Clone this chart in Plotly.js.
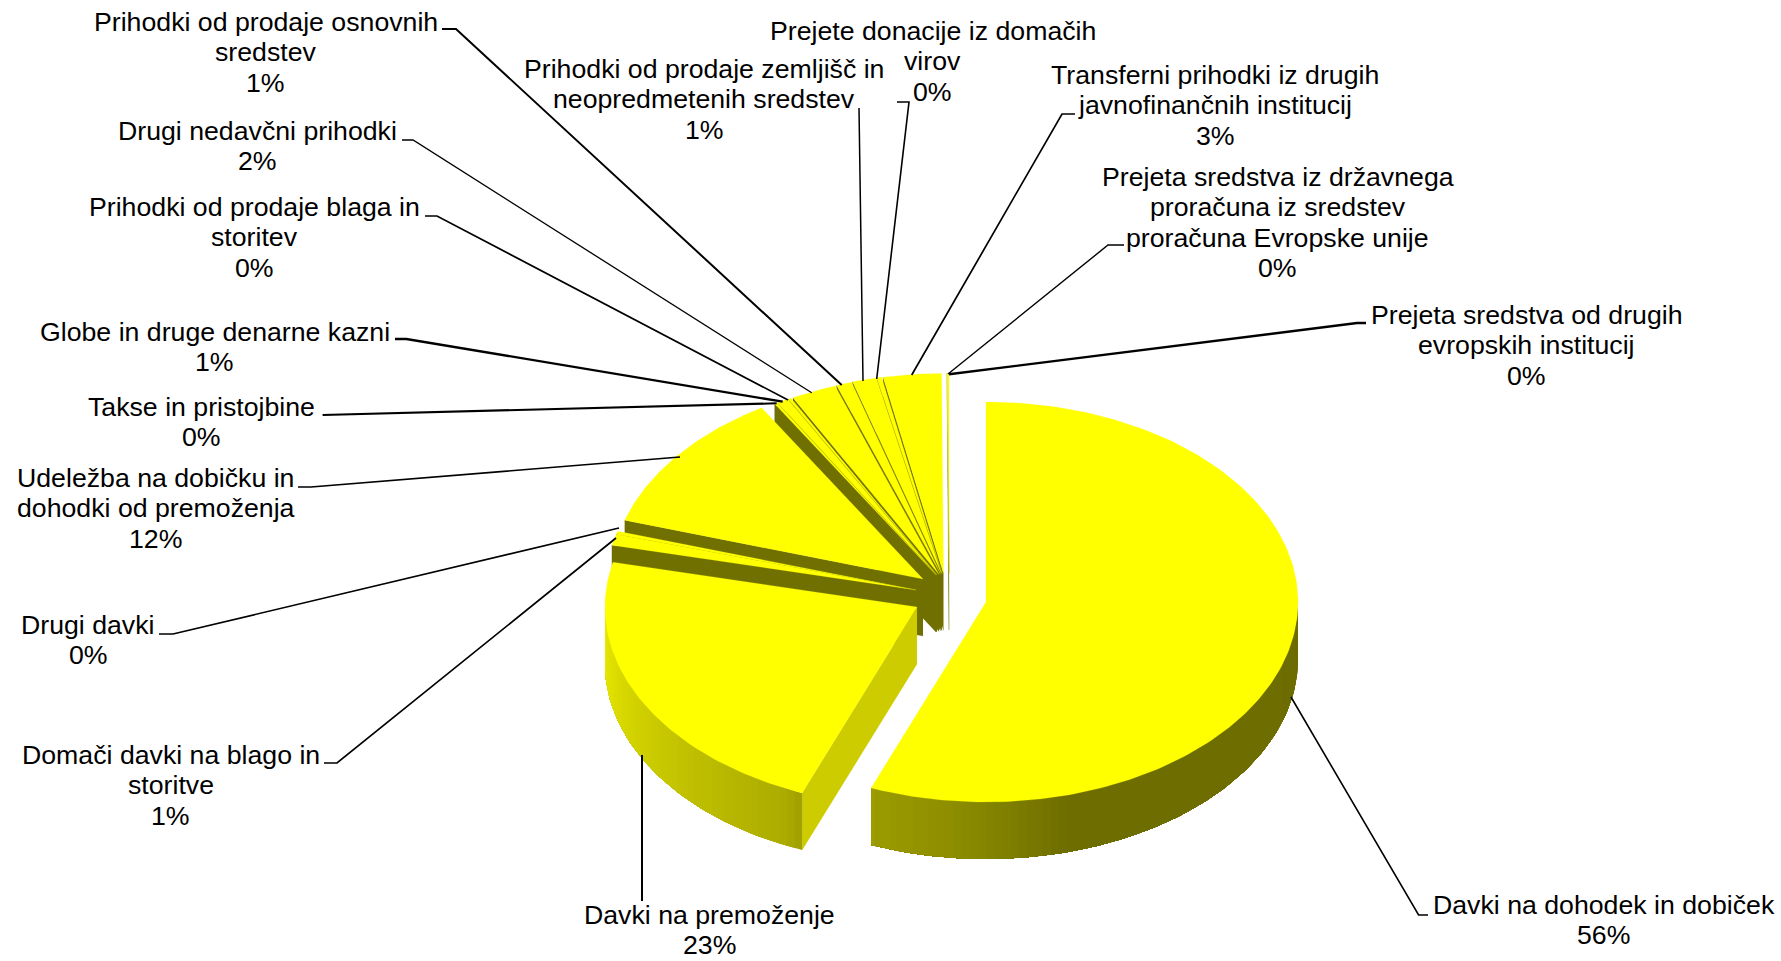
<!DOCTYPE html>
<html>
<head>
<meta charset="utf-8">
<script src="https://cdn.plot.ly/plotly-3.0.1.min.js"></script>
<style>html,body{margin:0;padding:0;background:#fff;overflow:hidden}#chart{width:1781px;height:961px}</style>
</head>
<body>
<div id="chart"></div>
<script>
// Data: share of revenue, clockwise from 12 o'clock
const categories = [
  ["Davki na dohodek in dobiček"],
  ["Davki na premoženje"],
  ["Domači davki na blago in","storitve"],
  ["Drugi davki"],
  ["Udeležba na dobičku in","dohodki od premoženja"],
  ["Takse in pristojbine"],
  ["Globe in druge denarne kazni"],
  ["Prihodki od prodaje blaga in","storitev"],
  ["Drugi nedavčni prihodki"],
  ["Prihodki od prodaje osnovnih","sredstev"],
  ["Prihodki od prodaje zemljišč in","neopredmetenih sredstev"],
  ["Prejete donacije iz domačih","virov"],
  ["Transferni prihodki iz drugih","javnofinančnih institucij"],
  ["Prejeta sredstva iz državnega","proračuna iz sredstev","proračuna Evropske unije"],
  ["Prejeta sredstva od drugih","evropskih institucij"]
];
const values = [56, 22.6, 0.9, 0.25, 11.6, 0.15, 0.6, 0.15, 2.35, 0.8, 1.25, 0.25, 3.0, 0.05, 0.05];

// Exploded slice apex positions (axis units = px)
const apexX = [986, 917, 916, 916, 923, 936, 936.5, 937, 939, 940.5, 941.5, 942, 943.5, 949, 949];
const apexY = [602, 607, 590, 590, 579, 575, 575, 575, 574.5, 574, 573.5, 573.5, 573.5, 573, 573];
const radiusX = 312, radiusY = 200, depth = 57;

// Label anchors (first line centre)
const labelX = [1603.5, 709.5, 170.5, 88, 155.5, 201.5, 214.5, 254, 257, 265.5, 704, 932.5, 1215, 1277.5, 1526.5];
const labelY = [905, 915, 755, 625, 478, 407, 332, 207, 131, 22, 69, 31, 75, 177, 315];
const lineStep = 30.4;

// Leader lines
const leaderX = [
  [1291,1418.6,1428],[642,642],[324,337,616],[159,173,619],[298,311,680],[322.6,776.7],
  [395,406.4,782.7],[425,437,788],[402,413,811.7],[442,456,841.7],[859,863],
  [897,909,876.7],[1075,1062,911.7],[1124,1108,948],[1366,1357,949]
];
const leaderY = [
  [697,915,915],[755,901],[763,763,538],[634,634,528],[487,487,457],[415,403.3],
  [339,339,401.7],[216,216,400],[140,140,392.7],[29,29,385],[108,381],
  [102,102,379],[114,114,375],[245,245,374],[323,323,374.3]
];
const leaderW = [1.6,2,1.7,1.7,1.7,2.1,2.3,1.7,1.3,2,1.5,1.6,1.7,1.4,2.4];

const total = values.reduce((a,b)=>a+b,0);
const rad = d => d*Math.PI/180;
const px = (i,a) => apexX[i] + radiusX*Math.sin(rad(a));
const py = (i,a) => apexY[i] - radiusY*Math.cos(rad(a));
const rgb = v => { const c=Math.round(v); return `rgb(${c},${c},0)`; };

function wallShade(a){
  const stops=[[90,108],[165,110],[185,140],[201,155],[205,172],[230,195],[260,225],[270,235]];
  for(let k=1;k<stops.length;k++){
    if(a<=stops[k][0]){
      const t=(a-stops[k-1][0])/(stops[k][0]-stops[k-1][0]);
      return stops[k-1][1]+t*(stops[k][1]-stops[k-1][1]);
    }
  }
  return 235;
}
const poly=(x,y,color,w)=>({x,y,type:'scatter',mode:'lines',fill:'toself',fillcolor:color,
  line:{color,width:w===undefined?0:w},hoverinfo:'skip',showlegend:false});

const start=[]; let acc=0;
values.forEach(v=>{start.push(acc); acc+=v/total*360;});

const traces=[];
for(let i=values.length-1;i>=0;i--){
  const a0=start[i], a1=a0+values[i]/total*360;
  // cut face along the leading edge, when it faces the viewer
  if(a0>180){
    const cx=px(i,a0), cy=py(i,a0);
    traces.push(poly([apexX[i],cx,cx,apexX[i]],[apexY[i],cy,cy+depth,apexY[i]+depth],
      rgb(a0<240?204:112),0.3));
  }
  // outer rim, lower half of the ellipse only: each band runs to the far end of the rim
  // and the next one paints over it, so no seams appear in the gradient
  const lo=Math.max(a0,90), hi=Math.min(a1,270);
  for(let a=lo;a<hi;a+=1.5){
    const xs=[],ys=[];
    for(let b=a;b<hi;b+=1.5){ xs.push(px(i,b)); ys.push(py(i,b)); }
    xs.push(px(i,hi)); ys.push(py(i,hi));
    for(let k=xs.length-1;k>=0;k--){ xs.push(xs[k]); ys.push(ys[k]+depth); }
    traces.push(poly(xs,ys,rgb(wallShade(a+0.75)),0));
  }
  // top face
  const xs=[apexX[i]], ys=[apexY[i]];
  const n=Math.max(2,Math.ceil(a1-a0));
  for(let k=0;k<=n;k++){ const a=a0+(a1-a0)*k/n; xs.push(px(i,a)); ys.push(py(i,a)); }
  xs.push(apexX[i]); ys.push(apexY[i]);
  traces.push(poly(xs,ys,'#ffff00',0.2));
}
leaderX.forEach((x,i)=>traces.push({x,y:leaderY[i],type:'scatter',mode:'lines',
  line:{color:'#000',width:leaderW[i]},hoverinfo:'skip',showlegend:false}));

const annotations=[];
categories.forEach((lines,i)=>{
  const all=lines.concat([Math.round(values[i]/total*100)+'%']);
  all.forEach((t,k)=>annotations.push({text:t,x:labelX[i],y:labelY[i]+k*lineStep,xref:'x',yref:'y',
    showarrow:false,xanchor:'center',yanchor:'middle',align:'center',
    font:{family:'"Liberation Sans",Arial,sans-serif',size:26.7,color:'#000'}}));
});

Plotly.newPlot('chart',traces,{
  width:1781,height:961,margin:{l:0,r:0,t:0,b:0},
  paper_bgcolor:'#fff',plot_bgcolor:'#fff',showlegend:false,
  xaxis:{range:[0,1781],visible:false,fixedrange:true},
  yaxis:{range:[961,0],visible:false,fixedrange:true},
  annotations
},{displayModeBar:false,staticPlot:true});
</script>
</body>
</html>
